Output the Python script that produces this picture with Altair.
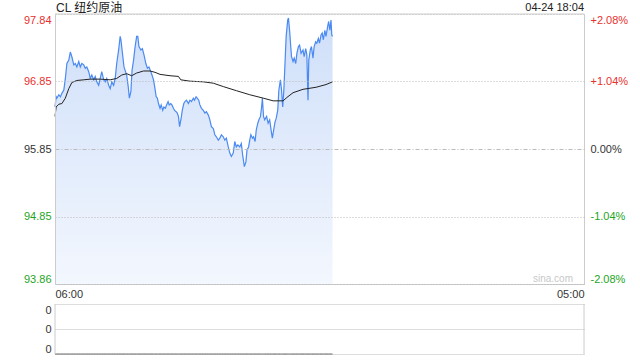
import altair as alt
import pandas as pd

# ---------------- data ----------------
minutes = [0, 3, 5, 10, 14, 18, 23, 27, 31, 36, 40, 44, 49, 53, 57, 62, 66, 70, 75, 79,
           83, 88, 92, 96, 101, 105, 109, 114, 118, 122, 127, 131, 135, 140, 144, 148, 153, 157, 161, 166,
           170, 172, 177, 180, 184, 187, 191, 194, 198, 201, 205, 209, 213, 216, 219, 224, 228, 232, 237, 241,
           245, 250, 253, 257, 260, 264, 267, 270, 274, 277, 281, 284, 288, 291, 295, 298, 302, 305, 309, 312,
           316, 319, 322, 325, 329, 332, 336, 339, 343, 348, 352, 356, 361, 364, 368, 371, 375, 378, 382, 387,
           391, 395, 400, 404, 408, 413, 417, 421, 426, 430, 434, 439, 443, 447, 452, 456, 460, 465, 469, 473,
           477, 482, 486, 490, 494, 498, 501, 505, 508, 511, 515, 518, 522, 525, 529, 532, 536, 539, 541, 544,
           547, 552, 556, 560, 565, 567, 571, 574, 577, 581, 584, 588, 591, 594, 597, 600, 603, 607, 609, 612,
           615, 617, 621, 624, 628, 631, 635, 638, 642, 647, 650, 654, 657, 660, 662, 666, 669, 673, 676, 680,
           683, 687, 690, 694, 697, 700, 704, 707, 712, 714, 717, 720, 722, 724]
prices = [96.47, 96.62, 96.60, 96.65, 96.62, 96.67, 96.72, 96.89, 97.11, 97.16, 97.28, 97.21, 97.09, 97.11, 97.06, 97.14, 97.06, 97.11, 97.09, 97.04,
          97.06, 96.99, 96.89, 96.94, 96.87, 96.92, 96.84, 96.79, 96.89, 96.99, 96.87, 96.84, 96.89, 96.79, 96.74, 96.84, 96.79, 96.89, 97.11, 97.31,
          97.51, 97.46, 97.21, 97.06, 96.99, 96.94, 96.77, 96.60, 96.70, 97.01, 97.16, 97.36, 97.51, 97.51, 97.36, 97.31, 97.33, 97.24, 97.11, 97.04,
          97.06, 96.99, 96.94, 96.87, 96.77, 96.62, 96.60, 96.52, 96.45, 96.50, 96.42, 96.47, 96.45, 96.50, 96.55, 96.50, 96.52, 96.50, 96.45, 96.42,
          96.40, 96.38, 96.33, 96.18, 96.30, 96.42, 96.52, 96.55, 96.57, 96.52, 96.57, 96.55, 96.60, 96.57, 96.62, 96.60, 96.57, 96.50, 96.45, 96.42,
          96.38, 96.40, 96.35, 96.28, 96.18, 96.15, 96.06, 96.03, 95.98, 96.01, 96.06, 96.03, 95.98, 96.01, 95.88, 95.79, 95.74, 95.79, 95.96, 95.88,
          95.91, 95.88, 95.93, 95.74, 95.59, 95.66, 95.84, 95.88, 95.98, 96.06, 96.01, 96.03, 95.96, 96.13, 96.23, 96.28, 96.33, 96.47, 96.60, 96.33,
          96.28, 96.33, 96.23, 96.28, 96.08, 96.01, 96.15, 96.25, 96.30, 96.42, 96.72, 96.87, 96.72, 96.47, 96.72, 97.11, 97.51, 97.75, 97.78, 97.60,
          97.36, 97.21, 97.14, 97.19, 97.11, 97.26, 97.36, 97.38, 97.26, 97.31, 97.21, 97.33, 97.24, 96.57, 97.16, 97.31, 97.36, 97.19, 97.36, 97.43,
          97.41, 97.48, 97.41, 97.53, 97.56, 97.46, 97.60, 97.51, 97.68, 97.73, 97.60, 97.75, 97.53, 97.51]

avg_minutes = [0, 3, 10, 18, 27, 36, 44, 57, 75, 92, 118, 144, 161, 174, 187, 200, 213, 231, 248, 261,
               274, 300, 322, 328, 352, 387, 413, 439, 473, 508, 543, 569, 595, 605, 621, 647, 681, 707, 724]
avg_prices = [96.33, 96.47, 96.51, 96.52, 96.60, 96.74, 96.83, 96.86, 96.87, 96.88, 96.88, 96.87, 96.89, 96.94, 96.96, 96.93, 96.97, 97.00, 97.00, 96.98,
              96.95, 96.93, 96.92, 96.87, 96.85, 96.84, 96.82, 96.77, 96.71, 96.65, 96.60, 96.56, 96.56, 96.61, 96.68, 96.73, 96.76, 96.80, 96.84]

volumes = [0] * len(minutes)

price_domain = [93.86, 97.84]
prev_close = 95.85
price_ticks = [93.86, 94.85, 95.85, 96.85, 97.84]
pct_labels = ["-2.08%", "-1.04%", "0.00%", "+1.04%", "+2.08%"]
x_domain = [0, 1380]            # minutes after 06:00 (06:00 -> 05:00)
x_tick_vals = [0, 1380]
x_tick_labels = ["06:00", "05:00"]
vol_domain = [0, 2]
vol_ticks = [0, 1, 2]
vol_labels = ["0", "0", "0"]
title_text = ["CL 纽约原油"]
stamp_text = ["04-24 18:04"]
watermark_text = ["sina.com"]

# ---------------- styling ----------------
W, H = 529, 340
MAIN_H = 270
VOL_TOP = 290
RED = "#e8302e"
GREEN = "#1ea51e"
DARK = "#333333"
BLUE = "#4a8af2"
BORDER = "#cccccc"
FONT = "Liberation Sans"
CJK = "Liberation Sans, Noto Sans CJK SC"


def label_chain(vals, labels):
    expr = "''"
    for v, lab in reversed(list(zip(vals, labels))):
        expr = f"abs(datum.value - ({v})) < 0.0001 ? '{lab}' : ({expr})"
    return expr


price_df = pd.DataFrame({"t": minutes, "p": prices})
avg_df = pd.DataFrame({"t": avg_minutes, "p": avg_prices})
vol_df = pd.DataFrame({"t": minutes, "v": volumes})
edge_df = pd.DataFrame({"t": x_domain})
top_df = pd.DataFrame({"t": [x_domain[0]], "t2": [x_domain[1]]})

xs = alt.Scale(domain=x_domain, nice=False, zero=False)
ps = alt.Scale(domain=price_domain, range=[MAIN_H, 0], nice=False, zero=False)
vs = alt.Scale(domain=vol_domain, range=[H, VOL_TOP], nice=False, zero=False)

x_axis = alt.Axis(values=x_tick_vals, labelExpr=label_chain(x_tick_vals, x_tick_labels),
                  labelFlush=True, offset=-(H - MAIN_H), domainColor=BORDER, ticks=False,
                  grid=False, labelPadding=4, labelFontSize=11, labelColor=DARK, labelFont=FONT,
                  title=None)

X = alt.X("t:Q", scale=xs, axis=x_axis)

left_axis = alt.Axis(
    orient="left", values=price_ticks, format=".2f", title=None, ticks=False,
    domainColor=BORDER, labelPadding=4, labelFlush=True, labelFontSize=11, labelFont=FONT,
    labelColor={"condition": [{"test": f"datum.value > {prev_close + 0.01}", "value": RED},
                              {"test": f"datum.value < {prev_close - 0.01}", "value": GREEN}],
                "value": DARK},
    grid=True, gridColor="#bbbbbb", gridWidth=1,
    gridDash={"condition": {"test": f"abs(datum.value - {prev_close}) < 0.0001", "value": [4, 2, 1, 2]},
              "value": [1, 2]},
    zindex=1,
)

right_axis = alt.Axis(
    orient="right", values=price_ticks, labelExpr=label_chain(price_ticks, pct_labels), title=None,
    ticks=False, domainColor=BORDER, labelPadding=6, labelFlush=True, labelFontSize=11, labelFont=FONT,
    labelColor={"condition": [{"test": f"datum.value > {prev_close + 0.01}", "value": RED},
                              {"test": f"datum.value < {prev_close - 0.01}", "value": GREEN}],
                "value": DARK},
    grid=False,
)

vol_axis = alt.Axis(
    orient="left", values=vol_ticks, labelExpr=label_chain(vol_ticks, vol_labels), title=None,
    ticks=False, domain=False, labelPadding=4, labelFlush=True, labelFontSize=11, labelFont=FONT,
    labelColor=DARK, grid=True, gridColor="#bbbbbb", gridDash=[1, 1],
)

fill = alt.Gradient(gradient="linear",
                    stops=[alt.GradientStop(color="#cfdff9", offset=0),
                           alt.GradientStop(color="#f3f7fe", offset=1)],
                    x1=0, x2=0, y1=0, y2=1)

area = alt.Chart(price_df).mark_area(color=fill, interpolate="linear").encode(
    x=X, y=alt.Y("p:Q", scale=ps, axis=left_axis), y2=alt.datum(price_domain[0]))

line = alt.Chart(price_df).mark_line(color=BLUE, strokeWidth=1.2).encode(
    x=X, y=alt.Y("p:Q", scale=ps, axis=None))

avg = alt.Chart(avg_df).mark_line(color="#222222", strokeWidth=1).encode(
    x=X, y=alt.Y("p:Q", scale=ps, axis=None))

pct = alt.Chart(price_df).mark_line(strokeOpacity=0).encode(
    x=X, y=alt.Y("p:Q", scale=ps, axis=right_axis))

vol = alt.Chart(vol_df).mark_line(color="#666666", strokeWidth=1).encode(
    x=X, y=alt.Y("v:Q", scale=vs, axis=vol_axis))

vol_edges = alt.Chart(edge_df).mark_rule(color=BORDER).encode(
    x=X, y=alt.value(VOL_TOP), y2=alt.value(H))

top_edge = alt.Chart(top_df).mark_rule(color=BORDER).encode(
    x=X, x2="t2:Q", y=alt.value(0))

title = alt.Chart(pd.DataFrame({"s": title_text})).mark_text(
    align="left", baseline="alphabetic", fontSize=12, font=CJK, color="#222222").encode(
    text="s:N", x=alt.value(1), y=alt.value(-2))

stamp = alt.Chart(pd.DataFrame({"s": stamp_text})).mark_text(
    align="right", baseline="alphabetic", fontSize=11, font=FONT, color="#222222").encode(
    text="s:N", x=alt.value(W), y=alt.value(-3))

mark_wm = alt.Chart(pd.DataFrame({"s": watermark_text})).mark_text(
    align="right", baseline="alphabetic", fontSize=10, font=FONT, color="#c8c8c8").encode(
    text="s:N", x=alt.value(W - 11), y=alt.value(MAIN_H - 2))

chart = alt.layer(
    area, line, avg, pct, vol, vol_edges, top_edge, title, stamp, mark_wm
).resolve_scale(y="independent").properties(
    width=W, height=H,
    autosize=alt.AutoSizeParams(type="none"),
    padding={"left": 55, "top": 14, "right": 56, "bottom": 6},
    background="white",
).configure_view(stroke=None)

chart.save("out.html", embed_options={"renderer": "svg", "actions": False})
